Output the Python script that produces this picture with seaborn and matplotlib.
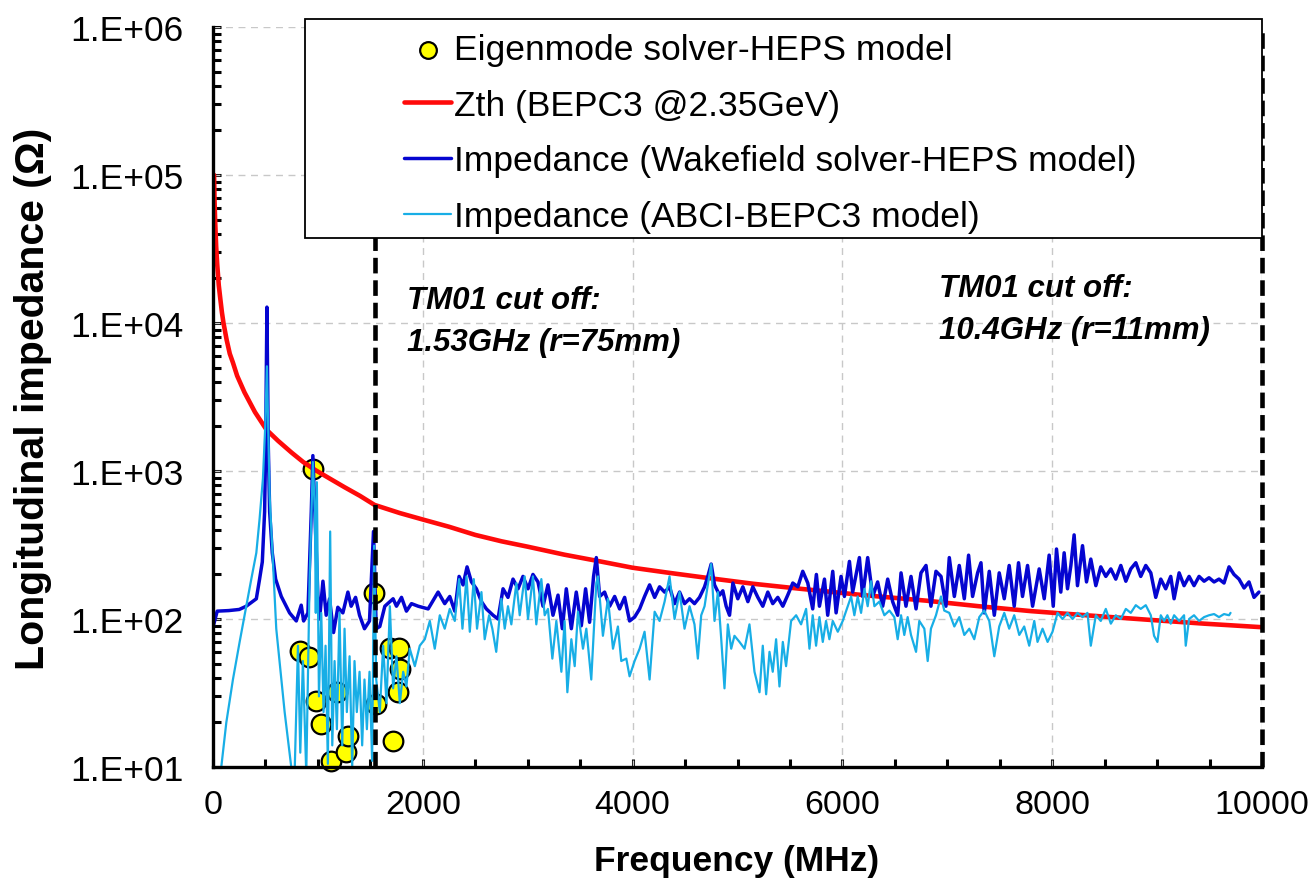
import numpy as np
import pandas as pd
import matplotlib
matplotlib.use("Agg")
import matplotlib.pyplot as plt
from matplotlib.patches import Rectangle
from matplotlib.ticker import FixedLocator, FuncFormatter, LogLocator, NullFormatter
import seaborn as sns

# ---------------- data ----------------
f_eig = [832, 912, 952, 979, 1033, 1128, 1185, 1271, 1287, 1535, 1551, 1690, 1713, 1767, 1775, 1783]
z_eig = [61, 55, 1030, 28, 19.5, 11, 32, 12.6, 16.1, 151, 26.7, 64, 15, 32, 64, 46]

f_zth = [10, 15, 20, 30, 40, 55, 70, 85, 100, 130, 160, 190, 230, 300, 400, 510, 620, 750, 860,
         970, 1100, 1250, 1400, 1540, 1780, 2000, 2250, 2500, 2750, 3000, 3350, 3690, 4000, 4350,
         4700, 5150, 5600, 6200, 6800, 7300, 7800, 8400, 8900, 9450, 10000]
z_zth = [100000, 66000, 50000, 33000, 25000, 18000, 14500, 11800, 10000, 7700, 6200, 5400, 4400,
         3400, 2500, 1900, 1600, 1330, 1150, 1020, 900, 780, 680, 590, 520, 470, 420, 370, 335,
         308, 272, 245, 222, 205, 190, 173, 160, 145, 133, 122, 113, 105, 99, 93, 88]

f_wake = [0, 40, 150, 250, 317, 413, 444, 470, 492, 502, 514, 527, 540, 565, 597, 651, 730, 794,
          841, 864, 905, 937, 952, 971, 1000, 1016, 1048, 1079, 1111, 1149, 1190, 1238, 1286, 1317,
          1359, 1397, 1444, 1492, 1530, 1556, 1590, 1638, 1717, 1749, 1797, 1844, 1892, 1956, 2051,
          2146, 2209, 2257, 2305, 2346, 2384, 2422, 2464, 2511, 2559, 2606, 2670, 2717, 2765, 2812,
          2860, 2908, 2955, 3003, 3050, 3098, 3146, 3193, 3241, 3289, 3330, 3368, 3416, 3463, 3511,
          3552, 3590, 3628, 3654, 3686, 3733, 3781, 3829, 3876, 3924, 3971, 4019, 4067, 4114, 4162,
          4210, 4257, 4305, 4352, 4400, 4448, 4495, 4543, 4590, 4638, 4686, 4717, 4749, 4781, 4829,
          4860, 4892, 4924, 4956, 5003, 5051, 5099, 5146, 5194, 5241, 5289, 5336, 5384, 5432, 5479,
          5527, 5575, 5622, 5670, 5717, 5752, 5781, 5829, 5860, 5908, 5940, 5987, 6019, 6067, 6098,
          6162, 6193, 6241, 6289, 6336, 6384, 6432, 6479, 6527, 6559, 6606, 6654, 6702, 6749, 6797,
          6844, 6892, 6940, 6987, 7019, 7067, 7114, 7162, 7203, 7241, 7289, 7321, 7352, 7400, 7448,
          7495, 7543, 7590, 7638, 7679, 7717, 7765, 7813, 7876, 7924, 7971, 8010, 8041, 8082, 8114,
          8146, 8178, 8209, 8241, 8289, 8327, 8368, 8416, 8463, 8511, 8559, 8606, 8654, 8702, 8749,
          8797, 8844, 8892, 8940, 8987, 9035, 9082, 9130, 9162, 9210, 9257, 9305, 9352, 9400, 9448,
          9495, 9543, 9590, 9638, 9686, 9733, 9781, 9829, 9876, 9924, 9971]
z_wake = [88, 113, 114, 116, 122, 137, 186, 243, 530, 1475, 12800, 1475, 530, 280, 186, 142, 110, 97,
          124, 97, 110, 530, 1270, 530, 142, 100, 180, 106, 137, 81, 120, 110, 152, 122,
          140, 106, 86, 97, 390, 86, 89, 122, 137, 122, 140, 113, 127, 122, 117,
          152, 127, 142, 113, 194, 170, 225, 178, 160, 131, 117, 106, 100, 160, 140,
          186, 160, 194, 160, 200, 178, 122, 170, 106, 145, 86, 160, 86, 152, 90,
          160, 95, 194, 260, 142, 152, 122, 142, 117, 140, 97, 103, 117, 142, 170,
          140, 165, 152, 165, 127, 152, 127, 137, 127, 140, 165, 194, 235, 170, 145,
          155, 122, 106, 175, 137, 165, 131, 165, 140, 122, 152, 127, 140, 122, 145,
          175, 165, 210, 175, 117, 200, 122, 186, 106, 210, 110, 194, 142, 245, 152,
          260, 142, 260, 142, 178, 122, 186, 131, 106, 205, 122, 194, 117, 205, 230,
          122, 210, 194, 122, 260, 142, 230, 137, 270, 142, 205, 240, 110, 210, 106,
          205, 137, 230, 122, 240, 142, 230, 122, 218, 137, 270, 122, 297, 152, 280,
          160, 230, 370, 168, 313, 178, 254, 168, 225, 194, 218, 186, 230, 180, 218,
          240, 194, 230, 205, 140, 186, 160, 194, 137, 205, 168, 194, 168, 194, 180,
          190, 178, 186, 175, 225, 200, 186, 162, 178, 140, 152]

f_abci = [60, 79, 127, 190, 254, 317, 365, 413, 444, 476, 498, 514, 530, 540, 603, 683, 746, 778,
          810, 832, 857, 889, 921, 952, 971, 980, 990, 1010, 1032, 1054, 1073, 1095, 1117, 1137,
          1159, 1181, 1206, 1232, 1254, 1276, 1302, 1327, 1349, 1371, 1397, 1422, 1444, 1467, 1492,
          1517, 1536, 1556, 1590, 1622, 1654, 1686, 1717, 1749, 1781, 1813, 1844, 1876, 1924, 1971,
          2019, 2067, 2114, 2162, 2209, 2257, 2305, 2346, 2378, 2417, 2448, 2486, 2517, 2559, 2590,
          2632, 2663, 2700, 2749, 2781, 2812, 2844, 2892, 2924, 2971, 3003, 3050, 3082, 3130, 3162,
          3193, 3235, 3273, 3321, 3352, 3378, 3416, 3448, 3479, 3527, 3559, 3606, 3654, 3670, 3717,
          3765, 3813, 3860, 3892, 3940, 3971, 4019, 4067, 4114, 4162, 4210, 4257, 4305, 4352, 4400,
          4448, 4495, 4543, 4590, 4622, 4654, 4686, 4717, 4749, 4781, 4813, 4845, 4876, 4908, 4940,
          4971, 5019, 5067, 5114, 5162, 5210, 5241, 5273, 5305, 5336, 5368, 5400, 5432, 5463, 5511,
          5559, 5606, 5654, 5686, 5717, 5749, 5781, 5813, 5844, 5876, 5908, 5956, 6003, 6051, 6083,
          6114, 6146, 6178, 6210, 6241, 6273, 6305, 6352, 6400, 6448, 6495, 6527, 6559, 6590, 6622,
          6654, 6702, 6733, 6781, 6813, 6844, 6892, 6940, 6971, 7019, 7067, 7114, 7162, 7210, 7257,
          7305, 7352, 7400, 7448, 7495, 7543, 7590, 7638, 7686, 7733, 7781, 7829, 7860, 7908, 7956,
          8003, 8051, 8098, 8146, 8194, 8241, 8289, 8336, 8368, 8416, 8463, 8511, 8559, 8606, 8654,
          8702, 8749, 8797, 8844, 8892, 8940, 8971, 9003, 9035, 9067, 9098, 9130, 9162, 9210, 9257,
          9273, 9305, 9352, 9400, 9448, 9495, 9543, 9590, 9638, 9686, 9700]
z_abci = [8, 10, 20, 39, 70, 122, 186, 280, 474, 890, 2000, 5100, 1500, 680, 86, 23.5, 10, 9,
          66, 12.5, 52, 9, 186, 1150, 530, 110, 840, 30, 110, 23.5, 66, 10.5, 390, 14,
          52, 18, 110, 14, 86, 23.5, 56, 10, 52, 23.5, 44, 14, 39, 18, 44,
          11, 313, 39, 23.5, 66, 27, 122, 34, 56, 27, 44, 35, 63, 48, 66,
          73, 97, 63, 106, 86, 117, 97, 186, 86, 194, 82, 186, 86, 152, 73,
          106, 86, 60, 137, 86, 122, 92, 175, 106, 194, 100, 194, 92, 186, 106,
          117, 54, 97, 44, 97, 32, 73, 48, 112, 63, 86, 39, 175, 194, 77,
          137, 63, 89, 52, 54, 41, 52, 63, 82, 39, 112, 97, 131, 194, 100,
          152, 86, 122, 92, 54, 106, 122, 170, 235, 97, 152, 73, 34, 92, 63,
          77, 70, 63, 92, 44, 32, 66, 31, 60, 44, 73, 35, 70, 48, 97,
          106, 92, 117, 63, 106, 66, 103, 70, 97, 73, 97, 82, 97, 122, 142,
          106, 142, 110, 160, 122, 180, 122, 131, 106, 114, 103, 73, 106, 78, 103,
          78, 60, 97, 86, 52, 86, 106, 142, 114, 110, 89, 103, 78, 86, 73,
          103, 114, 97, 56, 89, 110, 86, 106, 78, 89, 66, 97, 70, 86, 70,
          82, 110, 100, 110, 100, 110, 103, 110, 66, 106, 97, 117, 93, 106, 100,
          117, 110, 124, 117, 124, 106, 77, 70, 106, 97, 106, 93, 106, 97, 106,
          66, 100, 106, 97, 103, 106, 108, 103, 108, 106, 110]

x_ticks = [0, 2000, 4000, 6000, 8000, 10000]
y_ticks = [1e1, 1e2, 1e3, 1e4, 1e5, 1e6]
cutoffs = [1540, 10000]

lab_eig = "Eigenmode solver-HEPS model"
lab_zth = "Zth (BEPC3 @2.35GeV)"
lab_wake = "Impedance (Wakefield solver-HEPS model)"
lab_abci = "Impedance (ABCI-BEPC3 model)"

# ---------------- style ----------------
sns.set_style("white")
plt.rcParams["font.family"] = ["Liberation Sans", "DejaVu Sans"]
plt.rcParams["text.color"] = "black"
plt.rcParams["axes.labelcolor"] = "black"
plt.rcParams["xtick.color"] = "black"
plt.rcParams["ytick.color"] = "black"

W, H = 1309, 879
fig = plt.figure(figsize=(W / 100, H / 100), dpi=100)
L, R, T, B = 213, 1262, 28, 768
ax = fig.add_axes([L / W, 1 - B / H, (R - L) / W, (B - T) / H])
ax.set_yscale("log")

df_eig = pd.DataFrame({"f": f_eig, "z": z_eig})
df_zth = pd.DataFrame({"f": f_zth, "z": z_zth})
df_wake = pd.DataFrame({"f": f_wake, "z": z_wake})
df_abci = pd.DataFrame({"f": f_abci, "z": z_abci})

RED = "#FF0A0A"
DBLUE = "#0505D0"
LBLUE = "#18AEE6"

sns.scatterplot(data=df_eig, x="f", y="z", ax=ax, s=200, color="#FFFF00", edgecolor="black",
                linewidth=1.6, zorder=3, label=lab_eig, clip_on=False)
sns.lineplot(data=df_zth, x="f", y="z", ax=ax, color=RED, linewidth=3.3, zorder=4,
             label=lab_zth, errorbar=None, sort=False)
sns.lineplot(data=df_wake, x="f", y="z", ax=ax, color=DBLUE, linewidth=2.5, zorder=5,
             label=lab_wake, errorbar=None, sort=False)
sns.lineplot(data=df_abci, x="f", y="z", ax=ax, color=LBLUE, linewidth=1.6, zorder=6,
             label=lab_abci, errorbar=None, sort=False)

for c in cutoffs:
    ax.axvline(c, color="black", linewidth=3.3, linestyle=(0, (3.4, 1.5)), zorder=7, clip_on=False)

ax.set_xlim(0, 10000)
ax.set_ylim(10, 1e6)

# grid
for xv in x_ticks[1:]:
    ax.axvline(xv, color="#C8C8C8", linewidth=1.0, linestyle=(0, (5, 4)), zorder=1)
for yv in y_ticks:
    ax.axhline(yv, color="#C8C8C8", linewidth=1.0, linestyle=(0, (5, 4)), zorder=1)

# spines & ticks
for s in ["top", "right"]:
    ax.spines[s].set_visible(False)
for s in ["left", "bottom"]:
    ax.spines[s].set_linewidth(2.4)
    ax.spines[s].set_color("black")
    ax.spines[s].set_zorder(8)

ax.xaxis.set_major_locator(FixedLocator(x_ticks))
ax.xaxis.set_minor_locator(FixedLocator(list(range(500, 10000, 500))))
ax.yaxis.set_major_locator(FixedLocator(y_ticks))
ax.yaxis.set_minor_locator(LogLocator(base=10, subs=np.arange(2, 10), numticks=20))
ax.yaxis.set_minor_formatter(NullFormatter())
ax.yaxis.set_major_formatter(FuncFormatter(lambda v, p: "1.E+%02d" % int(round(np.log10(v)))))
ax.xaxis.set_major_formatter(FuncFormatter(lambda v, p: "%d" % v))

ax.tick_params(axis="x", which="both", direction="in", length=6, width=2.2, color="black",
               labelsize=24.5, pad=16, bottom=True, labelcolor="black")
ax.tick_params(axis="y", which="major", direction="in", length=6, width=2.2, color="black",
               labelsize=25.5, pad=21, left=True, labelcolor="black")
ax.tick_params(axis="y", which="minor", direction="in", length=6, width=2.2, color="black", left=True)

ax.set_xlabel("")
ax.set_ylabel("")
fig.text(737 / W, 1 - 862 / H, "Frequency (MHz)", ha="center", va="center",
         fontsize=25.5, fontweight="bold")
fig.text(33 / W, 1 - 399 / H, "Longitudinal impedance (\u03a9)", ha="center", va="center",
         rotation=90, fontsize=29.5, fontweight="bold")

# annotations
ax.text(1848, 1.03e4, "TM01 cut off:\n1.53GHz (r=75mm)", ha="left", va="center", fontsize=22.5,
        fontweight="bold", fontstyle="italic", linespacing=1.5, zorder=9)
ax.text(6924, 1.24e4, "TM01 cut off:\n10.4GHz (r=11mm)", ha="left", va="center", fontsize=22.5,
        fontweight="bold", fontstyle="italic", linespacing=1.5, zorder=9)

# legend box
rect = Rectangle((305 / W, 1 - 239 / H), 957 / W, 219 / H, transform=fig.transFigure,
                 facecolor="white", edgecolor="black", linewidth=1.3, zorder=20, clip_on=False)
fig.patches.append(rect)

handles, labels = ax.get_legend_handles_labels()
if ax.get_legend() is not None:
    ax.get_legend().remove()
leg = fig.legend(handles, labels, loc="upper left", bbox_to_anchor=(404 / W, 1 - 34 / H),
                 bbox_transform=fig.transFigure, frameon=False, fontsize=25.5,
                 handlelength=1.33, handletextpad=0.08, labelspacing=0.64, borderpad=0,
                 borderaxespad=0, markerscale=0.85)
leg.set_zorder(30)

fig.savefig("out.png", dpi=100)
